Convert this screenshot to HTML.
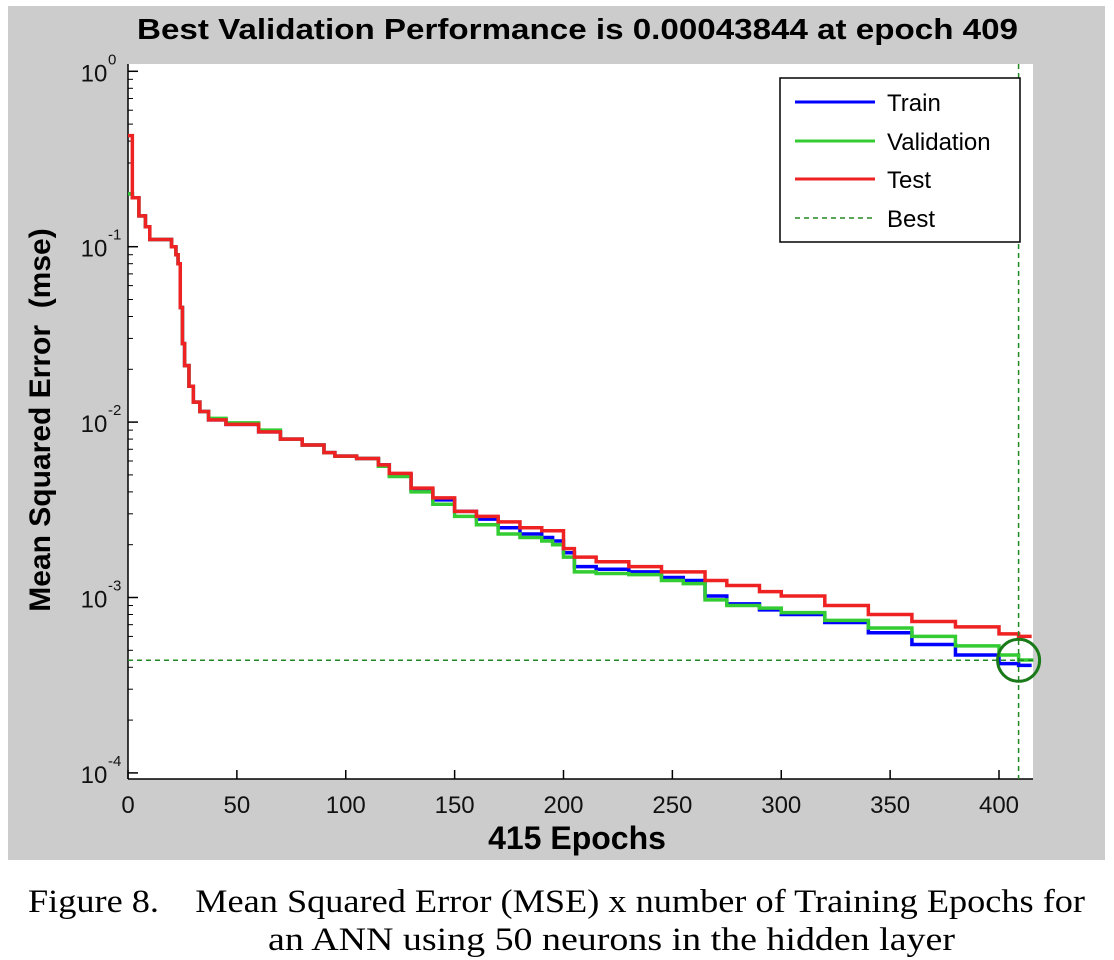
<!DOCTYPE html>
<html><head><meta charset="utf-8"><style>
body{margin:0;background:#fff;width:1114px;height:960px;overflow:hidden}
svg{display:block}
</style></head><body>
<svg id="chart" width="1114" height="960" xmlns="http://www.w3.org/2000/svg">
<rect x="8" y="6" width="1097" height="854" fill="#cccccc"/>
<rect x="128" y="64" width="905" height="715" fill="#fff"/>
<text x="137" y="39" textLength="881" lengthAdjust="spacingAndGlyphs" font-family="Liberation Sans, sans-serif" font-weight="bold" font-size="29">Best Validation Performance is 0.00043844 at epoch 409</text>
<text x="577" y="849" text-anchor="middle" font-family="Liberation Sans, sans-serif" font-weight="bold" font-size="32">415 Epochs</text>
<text transform="translate(50,420) rotate(-90)" text-anchor="middle" font-family="Liberation Sans, sans-serif" font-weight="bold" font-size="30">Mean Squared Error&#160;&#160;(mse)</text>
<g id="ticks"></g>
<g id="series"></g>
<g id="legend">
<rect x="780" y="78" width="240" height="164" fill="#fff" stroke="#000" stroke-width="1.5"/>
<line x1="795" y1="102" x2="875" y2="102" stroke="#0000ff" stroke-width="3"/>
<text x="887" y="111" font-family="Liberation Sans, sans-serif" font-size="24">Train</text>
<line x1="795" y1="141" x2="875" y2="141" stroke="#33cc33" stroke-width="3"/>
<text x="887" y="150" font-family="Liberation Sans, sans-serif" font-size="24">Validation</text>
<line x1="795" y1="179" x2="875" y2="179" stroke="#ee2222" stroke-width="3"/>
<text x="887" y="188" font-family="Liberation Sans, sans-serif" font-size="24">Test</text>
<line x1="795" y1="218" x2="875" y2="218" stroke="#228822" stroke-width="1.5" stroke-dasharray="5,4"/>
<text x="887" y="227" font-family="Liberation Sans, sans-serif" font-size="24">Best</text>
</g>
<text x="28" y="912" textLength="1057" lengthAdjust="spacingAndGlyphs" font-family="Liberation Serif, serif" font-size="33">Figure 8.&#160;&#160;&#160;&#160;Mean Squared Error (MSE) x number of Training Epochs for</text>
<text x="268" y="950" textLength="687" lengthAdjust="spacingAndGlyphs" font-family="Liberation Serif, serif" font-size="33">an ANN using 50 neurons in the hidden layer</text>
</svg>
<script>
const epochs=[0,2,5,8,10,15,20,22,23,24,25,26,28,30,33,37,45,60,70,80,90,95,105,115,120,130,140,150,160,170,180,190,195,200,205,215,230,245,255,265,275,290,300,320,340,360,380,400,409,415];
const train=[0.2,0.19,0.15,0.13,0.11,0.11,0.1,0.09,0.08,0.045,0.028,0.021,0.016,0.013,0.0115,0.0103,0.0097,0.0088,0.008,0.0074,0.0067,0.0064,0.0062,0.0057,0.005,0.0041,0.0036,0.0031,0.0028,0.0025,0.0023,0.0022,0.0021,0.0018,0.0015,0.00145,0.0014,0.0013,0.00125,0.00102,0.00092,0.00085,0.0008,0.00072,0.00063,0.00054,0.00047,0.00042,0.00041,0.00041];
const validation=[0.2,0.19,0.15,0.13,0.11,0.11,0.1,0.09,0.08,0.045,0.028,0.021,0.016,0.013,0.0115,0.0105,0.0099,0.009,0.008,0.0074,0.0067,0.0064,0.0062,0.0056,0.0049,0.004,0.0034,0.0029,0.0026,0.0023,0.0022,0.0021,0.002,0.0017,0.0014,0.00137,0.00135,0.00125,0.0012,0.00097,0.0009,0.00087,0.00082,0.00074,0.00067,0.0006,0.00053,0.00047,0.00044,0.00045];
const test=[0.43,0.19,0.15,0.13,0.11,0.11,0.1,0.09,0.08,0.045,0.028,0.021,0.016,0.013,0.0115,0.0103,0.0097,0.0088,0.008,0.0074,0.0067,0.0064,0.0062,0.0057,0.0051,0.0042,0.0037,0.0031,0.0029,0.0027,0.0025,0.0024,0.0024,0.0019,0.0017,0.0016,0.0015,0.0014,0.0014,0.00125,0.00117,0.00108,0.00102,0.0009,0.0008,0.00073,0.00068,0.00062,0.0006,0.0006];
const xTicks=[0,50,100,150,200,250,300,350,400];
const yExps=[0,-1,-2,-3,-4];
const bestEpoch=409, bestValue=0.00043844;
const NS="http://www.w3.org/2000/svg";
const X=e=>128+e*(999-128)/400;
const Y=v=>71.3-Math.log10(v)*175.4;
function mk(tag,attrs,parent){const el=document.createElementNS(NS,tag);for(const k in attrs)el.setAttribute(k,attrs[k]);parent.appendChild(el);return el;}
const tg=document.getElementById('ticks');
mk('line',{x1:128,y1:64,x2:128,y2:779,stroke:'#000','stroke-width':1.5},tg);
mk('line',{x1:128,y1:779,x2:1033,y2:779,stroke:'#000','stroke-width':1.5},tg);
xTicks.forEach(t=>{
 const l=mk('line',{x1:X(t),y1:779,x2:X(t),y2:770,stroke:'#000','stroke-width':1.5},tg);
 
 
 const tx=mk('text',{x:X(t),y:813,'text-anchor':'middle','font-family':'Liberation Sans, sans-serif','font-size':24,fill:'#111'},tg);
 tx.textContent=t;
 
 
});
yExps.forEach(p=>{
 const y=Y(Math.pow(10,p));
 mk('line',{x1:128,y1:y,x2:138,y2:y,stroke:'#000','stroke-width':1.5},tg);
 if(p>-4){for(let m=2;m<=9;m++){const ym=Y(m*Math.pow(10,p-1));mk('line',{x1:128,y1:ym,x2:133,y2:ym,stroke:'#000','stroke-width':1},tg);}}
 const tx=mk('text',{x:94,y:y+10,'text-anchor':'middle','font-family':'Liberation Sans, sans-serif','font-size':24,fill:'#111'},tg);
 tx.textContent='10';
 
 
 const sp=mk('text',{x:108,y:y-7,'font-family':'Liberation Sans, sans-serif','font-size':15,fill:'#111'},tg);
 sp.textContent=String(p);
 
 
});
const sg=document.getElementById('series');
function stepPath(vals){let d='M'+X(epochs[0])+','+Y(vals[0]);for(let i=1;i<epochs.length;i++){d+=' H'+X(epochs[i])+' V'+Y(vals[i]);}return d;}
[[train,'#0000ff','train-line'],[validation,'#33cc33','validation-line'],[test,'#ee2222','test-line']].forEach(([v,c,n])=>{
 const p=mk('path',{d:stepPath(v),fill:'none',stroke:c,'stroke-width':3.5},sg);
 
 
});
const bh=mk('line',{x1:128,y1:Y(bestValue),x2:1033,y2:Y(bestValue),stroke:'#228822','stroke-width':1.5,'stroke-dasharray':'5,4'},sg);


const bv=mk('line',{x1:X(bestEpoch),y1:64,x2:X(bestEpoch),y2:779,stroke:'#228822','stroke-width':1.5,'stroke-dasharray':'5,4'},sg);


const bc=mk('circle',{cx:X(bestEpoch),cy:Y(bestValue),r:21,fill:'none',stroke:'#1a7a1a','stroke-width':3},sg);


</script>
</body></html>
